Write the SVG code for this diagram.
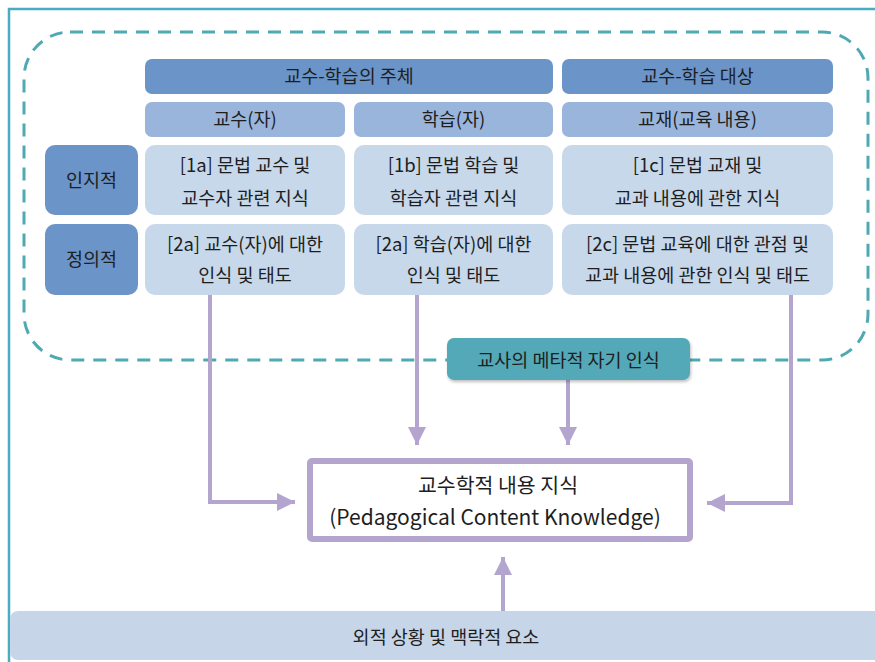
<svg xmlns="http://www.w3.org/2000/svg" width="875" height="662" viewBox="0 0 875 662">
  <defs>
    <style>
      .t { font-family: "Noto Sans CJK KR", "Noto Sans", sans-serif; fill: #1e1e1e; text-anchor: middle; }
      .s17 { font-size: 18.5px; }
      .pk1 { font-size: 20.5px; }
      .pk2 { font-size: 21px; }
      .hdr { fill: #6b94c8; }
      .sub { fill: #99b5dc; }
      .cell { fill: #c7d8eb; }
      .conn { fill: none; stroke: #b4a5cf; stroke-width: 4; marker-end: url(#arr); }
    </style>
    <marker id="arr" markerUnits="userSpaceOnUse" markerWidth="20" markerHeight="20" viewBox="0 0 20 20" refX="18" refY="10" orient="auto">
      <path d="M0,1 L18,10 L0,19 Z" fill="#b4a5cf"/>
    </marker>
    <filter id="sh" x="-10%" y="-20%" width="120%" height="150%">
      <feDropShadow dx="1" dy="2" stdDeviation="1.5" flood-color="#000" flood-opacity="0.25"/>
    </filter>
  </defs>

  <rect width="875" height="662" fill="#fff"/>

  <!-- outer frame -->
  <rect x="9" y="9" width="900" height="660" fill="none" stroke="#4aacc0" stroke-width="2.5"/>

  <!-- dashed boundary of the knowledge components -->
  <rect x="24" y="32" width="844" height="328" rx="46" ry="46" fill="none" stroke="#4fa9b3" stroke-width="3" stroke-dasharray="13 9"/>

  <!-- column headers -->
  <g id="hdr-subject">
    <rect class="hdr" x="145" y="59" width="408" height="35" rx="7"/>
    <text class="t s17" x="349" y="83">교수-학습의 주체</text>
  </g>
  <g id="hdr-object">
    <rect class="hdr" x="562" y="59" width="271" height="35" rx="7"/>
    <text class="t s17" x="697.5" y="83">교수-학습 대상</text>
  </g>
  <g id="sub-teacher">
    <rect class="sub" x="145" y="102" width="200" height="35" rx="7"/>
    <text class="t s17" x="245" y="126">교수(자)</text>
  </g>
  <g id="sub-learner">
    <rect class="sub" x="354" y="102" width="199" height="35" rx="7"/>
    <text class="t s17" x="453.5" y="126">학습(자)</text>
  </g>
  <g id="sub-material">
    <rect class="sub" x="562" y="102" width="271" height="35" rx="7"/>
    <text class="t s17" x="697.5" y="126">교재(교육 내용)</text>
  </g>

  <!-- row labels -->
  <g id="row-cognitive">
    <rect class="hdr" x="45" y="145" width="93" height="70" rx="10"/>
    <text class="t s17" x="91.5" y="187">인지적</text>
  </g>
  <g id="row-affective">
    <rect class="hdr" x="45" y="224" width="93" height="71" rx="10"/>
    <text class="t s17" x="91.5" y="266">정의적</text>
  </g>

  <!-- cells -->
  <g id="c1a">
    <rect class="cell" x="145" y="145" width="200" height="70" rx="10"/>
    <text class="t s17" x="245" y="172">[1a] 문법 교수 및</text>
    <text class="t s17" x="245" y="205">교수자 관련 지식</text>
  </g>
  <g id="c1b">
    <rect class="cell" x="354" y="145" width="199" height="70" rx="10"/>
    <text class="t s17" x="453.5" y="172">[1b] 문법 학습 및</text>
    <text class="t s17" x="453.5" y="205">학습자 관련 지식</text>
  </g>
  <g id="c1c">
    <rect class="cell" x="562" y="145" width="271" height="70" rx="10"/>
    <text class="t s17" x="697.5" y="172">[1c] 문법 교재 및</text>
    <text class="t s17" x="697.5" y="205">교과 내용에 관한 지식</text>
  </g>
  <g id="c2a">
    <rect class="cell" x="145" y="224" width="200" height="71" rx="10"/>
    <text class="t s17" x="245" y="251">[2a] 교수(자)에 대한</text>
    <text class="t s17" x="245" y="282">인식 및 태도</text>
  </g>
  <g id="c2b">
    <rect class="cell" x="354" y="224" width="199" height="71" rx="10"/>
    <text class="t s17" x="453.5" y="251">[2a] 학습(자)에 대한</text>
    <text class="t s17" x="453.5" y="282">인식 및 태도</text>
  </g>
  <g id="c2c">
    <rect class="cell" x="562" y="224" width="271" height="71" rx="10"/>
    <text class="t s17" x="697.5" y="251">[2c] 문법 교육에 대한 관점 및</text>
    <text class="t s17" x="697.5" y="282">교과 내용에 관한 인식 및 태도</text>
  </g>

  <!-- connectors -->
  <g id="connectors">
    <path class="conn" d="M210,295 V502 H295"/>
    <path class="conn" d="M417,295 V445"/>
    <path class="conn" d="M568,380 V445"/>
    <path class="conn" d="M791,295 V503 H707"/>
    <path class="conn" d="M503,611 V557"/>
  </g>

  <!-- meta-cognition box -->
  <g id="meta">
    <rect x="447" y="338" width="243" height="42" rx="7" fill="#52a9b8" filter="url(#sh)"/>
    <text class="t s17" x="568.5" y="367">교사의 메타적 자기 인식</text>
  </g>

  <!-- pedagogical content knowledge -->
  <g id="pck">
    <rect x="310" y="461" width="380" height="78" fill="#fff" stroke="#b4a5cf" stroke-width="6" rx="2"/>
    <text class="t pk1" x="498" y="493">교수학적 내용 지식</text>
    <text class="t pk2" x="495" y="525">(Pedagogical Content Knowledge)</text>
  </g>

  <!-- context band -->
  <g id="context">
    <rect x="10" y="611" width="880" height="49" rx="8" fill="#c6d6e8"/>
    <text class="t s17" x="446" y="644">외적 상황 및 맥락적 요소</text>
  </g>
</svg>
